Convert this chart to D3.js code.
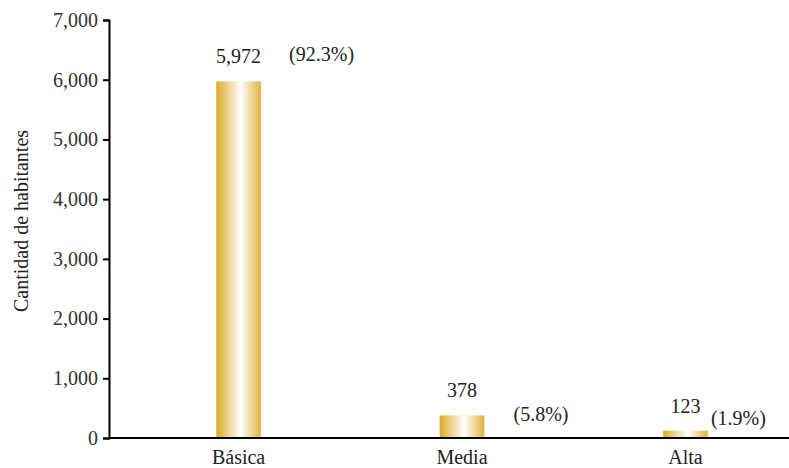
<!DOCTYPE html>
<html><head><meta charset="utf-8">
<script src="https://cdn.jsdelivr.net/npm/d3@7"></script>
<style>body{margin:0;background:#fff}svg{display:block}</style>
</head><body>
<svg id="c" width="789" height="468"></svg>
<script>
const categories = ["Básica", "Media", "Alta"];
const values = [5972, 378, 123];
const percentLabels = ["(92.3%)", "(5.8%)", "(1.9%)"];
const yTicks = [0, 1000, 2000, 3000, 4000, 5000, 6000, 7000];
const yTitle = "Cantidad de habitantes";

// layout (not data): offsets of percentage labels relative to bar centre / top
const pctOffsetX = [83, 79, 53];
const pctOffsetY = [-20, 6, -6];

const FONT = "'Liberation Serif', 'Times New Roman', 'DejaVu Serif', serif";
const FS = 20;
const svg = d3.select("#c").attr("font-family", FONT);
const m = {left: 109, top: 20, bottom: 438};
const x = d3.scaleBand().domain(categories).range([m.left, 815]).paddingInner(0.8).paddingOuter(0.48);
const y = d3.scaleLinear().domain([0, 7000]).range([m.bottom, m.top]);

const defs = svg.append("defs");
const g = defs.append("linearGradient").attr("id", "gold").attr("x1", "0").attr("x2", "1").attr("y1", "0").attr("y2", "0");
g.append("stop").attr("offset", "0").attr("stop-color", "#dcab27");
g.append("stop").attr("offset", "0.55").attr("stop-color", "#ffffff");
g.append("stop").attr("offset", "1").attr("stop-color", "#dfb23a");

svg.selectAll("rect.bar").data(values).join("rect").attr("class", "bar")
  .attr("x", (d, i) => x(categories[i]))
  .attr("width", x.bandwidth())
  .attr("y", d => y(d))
  .attr("height", d => y(0) - y(d))
  .attr("fill", "url(#gold)");

const yAxis = svg.append("g").attr("transform", `translate(${m.left},0)`)
  .call(d3.axisLeft(y).tickValues(yTicks).tickFormat(d3.format(",")).tickSize(6).tickPadding(5));
yAxis.attr("font-family", FONT).attr("font-size", FS);
yAxis.select(".domain").attr("stroke", "#000").attr("stroke-width", 2);
yAxis.selectAll(".tick line").attr("stroke", "#000").attr("stroke-width", 2);
yAxis.selectAll("text").attr("fill", "#333");

svg.append("line").attr("x1", m.left).attr("x2", 789).attr("y1", y(0)).attr("y2", y(0))
  .attr("stroke", "#000").attr("stroke-width", 2);

const txt = sel => sel.attr("font-family", FONT).attr("font-size", FS).attr("fill", "#222").attr("text-anchor", "middle");

svg.selectAll("text.cat").data(categories).join("text").attr("class", "cat")
  .attr("x", d => x(d) + x.bandwidth() / 2).attr("y", 464)
  .call(txt).text(d => d);

svg.selectAll("text.val").data(values).join("text").attr("class", "val")
  .attr("x", (d, i) => x(categories[i]) + x.bandwidth() / 2).attr("y", d => y(d) - 18)
  .call(txt).text(d => d3.format(",")(d));

svg.selectAll("text.pct").data(percentLabels).join("text").attr("class", "pct")
  .attr("x", (d, i) => x(categories[i]) + x.bandwidth() / 2 + pctOffsetX[i])
  .attr("y", (d, i) => y(values[i]) + pctOffsetY[i])
  .call(txt).text(d => d);

svg.append("text").attr("transform", "translate(28,221) rotate(-90)")
  .call(txt).text(yTitle);
</script>
</body></html>
